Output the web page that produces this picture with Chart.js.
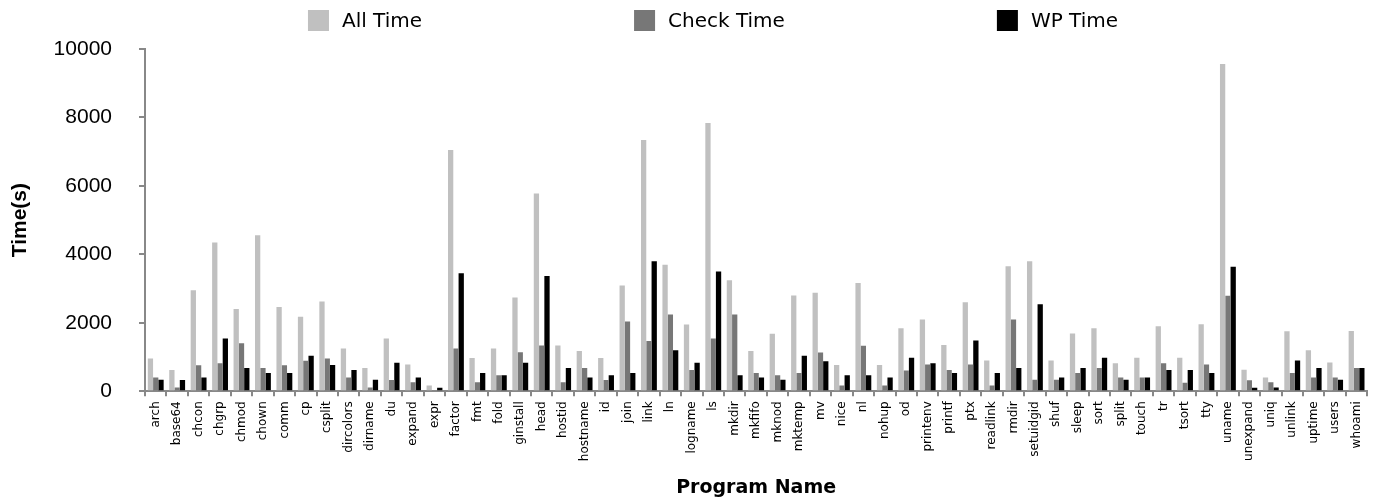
<!DOCTYPE html>
<html>
<head>
<meta charset="utf-8">
<script src="https://cdn.jsdelivr.net/npm/chart.js@4"></script>
<style>
  html, body { margin: 0; padding: 0; background: #fff; }
  #wrap { width: 1376px; height: 499px; }
</style>
</head>
<body>
<div id="wrap"><canvas id="chart" width="1376" height="499"></canvas></div>
<script>
// DATA
const programs = ["arch", "base64", "chcon", "chgrp", "chmod", "chown", "comm", "cp", "csplit", "dircolors",
  "dirname", "du", "expand", "expr", "factor", "fmt", "fold", "ginstall", "head", "hostid",
  "hostname", "id", "join", "link", "ln", "logname", "ls", "mkdir", "mkfifo", "mknod",
  "mktemp", "mv", "nice", "nl", "nohup", "od", "printenv", "printf", "ptx", "readlink",
  "rmdir", "setuidgid", "shuf", "sleep", "sort", "split", "touch", "tr", "tsort", "tty",
  "uname", "unexpand", "uniq", "unlink", "uptime", "users", "whoami"];

const allTime = [960, 620, 2950, 4350, 2400, 4560, 2460, 2180, 2620, 1250,
  680, 1540, 780, 170, 7050, 970, 1250, 2740, 5780, 1340,
  1180, 970, 3090, 7340, 3700, 1950, 7840, 3240, 1180, 1680,
  2800, 2880, 770, 3160, 770, 1840, 2100, 1350, 2600, 900,
  3650, 3800, 900, 1690, 1840, 820, 980, 1900, 980, 1960,
  9560, 630, 400, 1750, 1200, 840, 1760];

const checkTime = [400, 110, 760, 820, 1400, 680, 760, 890, 960, 400,
  110, 330, 260, 0, 1250, 260, 470, 1140, 1340, 260,
  680, 330, 2040, 1470, 2240, 620, 1540, 2240, 530, 470,
  530, 1130, 170, 1330, 170, 610, 780, 620, 780, 170,
  2100, 340, 340, 530, 680, 400, 400, 820, 250, 780,
  2790, 320, 260, 530, 400, 400, 680];

const wpTime = [340, 330, 400, 1540, 680, 530, 530, 1040, 770, 620,
  340, 830, 400, 100, 3450, 530, 470, 830, 3370, 680,
  400, 470, 530, 3800, 1200, 830, 3500, 470, 400, 340,
  1040, 880, 470, 470, 400, 980, 820, 530, 1480, 530,
  680, 2540, 400, 680, 980, 340, 400, 620, 620, 530,
  3640, 100, 110, 900, 680, 340, 680];

const yTicks = [0, 2000, 4000, 6000, 8000, 10000];

// STYLE
const axisGray = "#888888";
const seriesColors = ["#c0c0c0", "#777777", "#000000"];

// LEGEND (spread wide like the original, drawn by hand)
const wideLegend = {
  id: "wideLegend",
  afterDraw(chart) {
    const ctx = chart.ctx;
    const box = 21, gapText = 13, gapItem = 212, centerX = 713, top = 10;
    ctx.save();
    ctx.font = "20px 'DejaVu Sans'";
    ctx.textBaseline = "middle";
    const items = chart.data.datasets.map(ds => ({
      text: ds.label,
      color: ds.backgroundColor,
      w: box + gapText + ctx.measureText(ds.label).width
    }));
    const total = items.reduce((s, it) => s + it.w, 0) + gapItem * (items.length - 1);
    let x = centerX - total / 2;
    items.forEach(it => {
      ctx.fillStyle = it.color;
      ctx.fillRect(x, top, box, box);
      ctx.fillStyle = "#000";
      ctx.fillText(it.text, x + box + gapText, top + box / 2 + 1);
      x += it.w + gapItem;
    });
    ctx.restore();
  }
};

new Chart(document.getElementById("chart"), {
  type: "bar",
  data: {
    labels: programs,
    datasets: [
      { label: "All Time", data: allTime, backgroundColor: seriesColors[0] },
      { label: "Check Time", data: checkTime, backgroundColor: seriesColors[1] },
      { label: "WP Time", data: wpTime, backgroundColor: seriesColors[2] }
    ]
  },
  plugins: [wideLegend],
  options: {
    responsive: false,
    animation: false,
    layout: { padding: { top: 49, right: 4, left: 6, bottom: 0 } },
    datasets: {
      bar: { categoryPercentage: 0.74, barPercentage: 1.0 }
    },
    plugins: {
      tooltip: { enabled: false },
      legend: { display: false }
    },
    scales: {
      x: {
        border: { color: axisGray, width: 2 },
        grid: { display: true, drawOnChartArea: false, color: axisGray, tickLength: 5, lineWidth: 2 },
        ticks: {
          autoSkip: false,
          minRotation: 90,
          maxRotation: 90,
          padding: 5,
          color: "#000",
          font: { family: "DejaVu Sans", size: 12 }
        },
        title: {
          display: true,
          text: "Program Name",
          color: "#000",
          font: { family: "DejaVu Sans", size: 19, weight: "bold" },
          padding: { top: 10, bottom: 0 }
        }
      },
      y: {
        min: 0,
        max: 10000,
        afterBuildTicks: axis => { axis.ticks = yTicks.map(v => ({ value: v })); },
        afterFit: axis => { axis.width = 139; },
        border: { color: axisGray, width: 2 },
        grid: { display: true, drawOnChartArea: false, color: axisGray, tickLength: 6, lineWidth: 2 },
        ticks: {
          color: "#000",
          padding: 27,
          callback: v => String(v),
          font: { family: "Liberation Sans", size: 21 }
        },
        title: {
          display: true,
          text: "Time(s)",
          color: "#000",
          font: { family: "Liberation Sans", size: 21, weight: "bold" },
          padding: { top: 2, bottom: 0 }
        }
      }
    }
  }
});
</script>
</body>
</html>
